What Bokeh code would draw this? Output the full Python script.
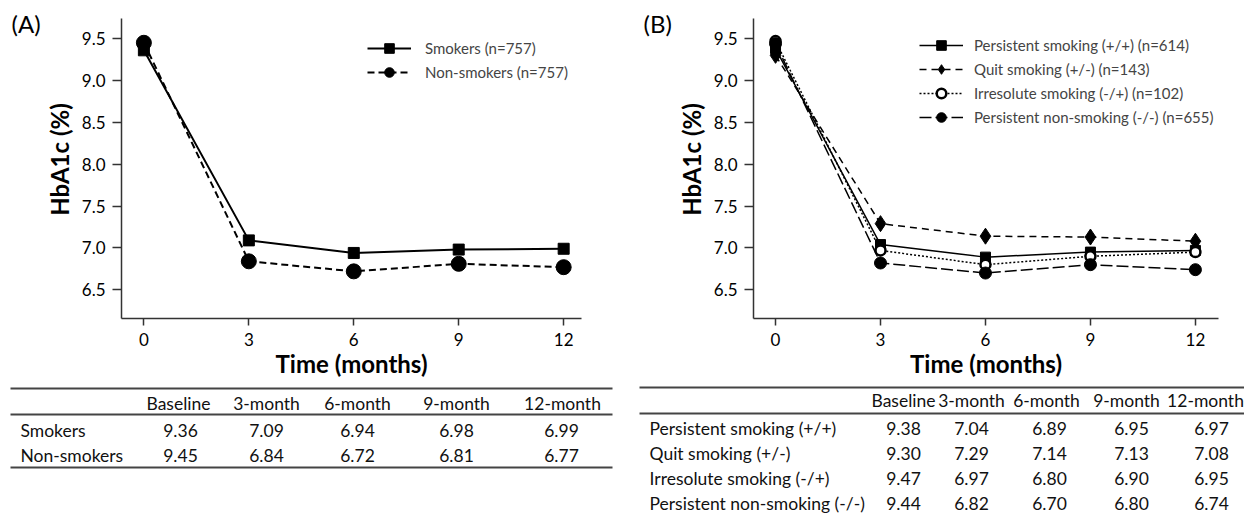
from bokeh.plotting import figure
from bokeh.models import (Range1d, FixedTicker, Legend, LegendItem,
                          NumeralTickFormatter)
from bokeh.layouts import row, column
from bokeh.embed import file_html
from bokeh.resources import INLINE
from bokeh.core.properties import value

# ---------------- data ----------------
months = [0, 3, 6, 9, 12]
col_labels = ["Baseline", "3-month", "6-month", "9-month", "12-month"]
y_ticks = [6.5, 7.0, 7.5, 8.0, 8.5, 9.0, 9.5]

a_names = ["Smokers", "Non-smokers"]
a_n = [757, 757]
smokers = [9.36, 7.09, 6.94, 6.98, 6.99]
non_smokers = [9.45, 6.84, 6.72, 6.81, 6.77]

b_names = ["Persistent smoking (+/+)", "Quit smoking (+/-)",
           "Irresolute smoking (-/+)", "Persistent non-smoking (-/-)"]
b_n = [614, 143, 102, 655]
persistent_smoking = [9.38, 7.04, 6.89, 6.95, 6.97]
quit_smoking = [9.30, 7.29, 7.14, 7.13, 7.08]
irresolute_smoking = [9.47, 6.97, 6.80, 6.90, 6.95]
persistent_non_smoking = [9.44, 6.82, 6.70, 6.80, 6.74]

FONT = "Lato"
AX = "#333333"
CHART_H = 382
B_BOTTOM = 64
Y_LO, Y_HI, Y_TOP = 6.157, 9.74, 9.955   # axis bounds and frame top


def make_tag(width, text, tx):
    t = figure(width=width, height=CHART_H, output_backend="svg", toolbar_location=None,
               x_range=Range1d(0, width), y_range=Range1d(CHART_H - B_BOTTOM, 0),
               x_axis_location=None, y_axis_location=None,
               min_border_left=0, min_border_right=0, min_border_top=0,
               min_border_bottom=B_BOTTOM)
    t.xgrid.visible = False
    t.ygrid.visible = False
    t.outline_line_color = None
    t.text(x=[tx], y=[23], text=[text], text_font=value(FONT), text_font_size="24px",
           text_baseline="middle", text_align="left", text_color="black")
    return t


def make_chart(width, b_left, b_right, x_start, x_end):
    p = figure(width=width, height=CHART_H, output_backend="svg", toolbar_location=None,
               x_range=Range1d(x_start, x_end), y_range=Range1d(Y_LO, Y_TOP),
               min_border_left=b_left, min_border_right=b_right,
               min_border_top=0, min_border_bottom=B_BOTTOM)
    p.xgrid.visible = False
    p.ygrid.visible = False
    p.outline_line_color = None
    p.xaxis.ticker = FixedTicker(ticks=months)
    p.yaxis.ticker = FixedTicker(ticks=y_ticks)
    p.yaxis.formatter = NumeralTickFormatter(format="0.0")
    p.yaxis.bounds = (Y_LO, Y_HI)
    p.xaxis.axis_label = "Time (months)"
    p.yaxis.axis_label = "HbA1c (%)"
    for ax in p.axis:
        ax.major_tick_in = 0
        ax.minor_tick_line_color = None
        ax.axis_line_color = AX
        ax.axis_line_width = 1.5
        ax.major_tick_line_color = AX
        ax.major_tick_line_width = 1.5
        ax.major_label_text_font = FONT
        ax.major_label_text_font_size = "17px"
        ax.major_label_text_color = "black"
        ax.major_label_standoff = 7
        ax.axis_label_text_font = FONT
        ax.axis_label_text_font_style = "bold"
        ax.axis_label_text_font_size = "24px"
        ax.axis_label_text_color = "black"
    p.yaxis.major_tick_out = 9
    p.xaxis.major_tick_out = 7
    p.yaxis.axis_label_standoff = 5
    p.xaxis.axis_label_standoff = 0
    return p


def style_legend(leg, standoff):
    leg.glyph_width = 44
    leg.glyph_height = 24
    leg.label_height = 24
    leg.spacing = 0
    leg.padding = 0
    leg.margin = 0
    leg.border_line_color = None
    leg.background_fill_alpha = 0
    leg.label_text_font = FONT
    leg.label_text_font_size = "15px"
    leg.label_standoff = standoff


# ---------------- panel A ----------------
tag_a = make_tag(41, "(A)", 11)
pa = make_chart(587, 79, 47, -0.64, 12.51)
la1 = pa.line(months, smokers, line_width=2, color="black")
ma1 = pa.scatter(months, smokers, marker="square", size=11, color="black")
la2 = pa.line(months, non_smokers, line_width=2, color="black", line_dash="7 4")
ma2 = pa.scatter(months, non_smokers, marker="circle", size=15, color="black")
leg_a = Legend(items=[
    LegendItem(label=f"{a_names[0]} (n={a_n[0]})", renderers=[la1, ma1]),
    LegendItem(label=f"{a_names[1]} (n={a_n[1]})", renderers=[la2, ma2]),
], location=(246, 234))
style_legend(leg_a, 14)
pa.add_layout(leg_a)

# ---------------- panel B ----------------
tag_b = make_tag(45, "(B)", 15)
pb = make_chart(571, 79, 26, -0.63, 12.66)
lb1 = pb.line(months, persistent_smoking, line_width=1.5, color="black")
mb1 = pb.scatter(months, persistent_smoking, marker="square", size=10, color="black")
lb2 = pb.line(months, quit_smoking, line_width=1.5, color="black", line_dash="7 5")
mb2 = pb.scatter(months, quit_smoking, marker="diamond", size=16, color="black")
lb3 = pb.line(months, irresolute_smoking, line_width=1.5, color="black", line_dash="2 2")
mb3 = pb.scatter(months, irresolute_smoking, marker="circle", size=10,
                 fill_color="white", line_color="black", line_width=2.5)
lb4 = pb.line(months, persistent_non_smoking, line_width=1.5, color="black",
              line_dash="12 4")
mb4 = pb.scatter(months, persistent_non_smoking, marker="circle", size=12, color="black")
leg_b = Legend(items=[
    LegendItem(label=f"{b_names[i]} (n={b_n[i]})", renderers=r)
    for i, r in enumerate([[lb1, mb1], [lb2, mb2], [lb3, mb3], [lb4, mb4]])
], location=(166, 189))
style_legend(leg_b, 11)
pb.add_layout(leg_b)

# ---------------- tables (one figure, page-pixel coordinates) ----------------
T_TOP, T_H, T_W = CHART_H, 131, 1244
tbl = figure(width=T_W, height=T_H, output_backend="svg", toolbar_location=None,
             x_range=Range1d(0, T_W), y_range=Range1d(T_TOP + T_H, T_TOP),
             x_axis_location=None, y_axis_location=None, min_border=0)
tbl.xgrid.visible = False
tbl.ygrid.visible = False
tbl.outline_line_color = None
common = dict(text_font=value(FONT), text_font_size="17.5px", text_color="#111111",
              text_baseline="middle")


def draw_table(label_x, head_x, val_x, line_x0, line_x1, head_y, row_ys, line_ys,
               names, rows):
    tbl.text(x=head_x, y=[head_y] * len(col_labels), text=col_labels,
             text_align="center", **common)
    lx, ly, lt, vx, vy, vt = [], [], [], [], [], []
    for name, vals, yy in zip(names, rows, row_ys):
        lx.append(label_x); ly.append(yy); lt.append(name)
        for xx, v in zip(val_x, vals):
            vx.append(xx); vy.append(yy); vt.append(f"{v:.2f}")
    tbl.text(x=lx, y=ly, text=lt, text_align="left", **common)
    tbl.text(x=vx, y=vy, text=vt, text_align="center", **common)
    tbl.segment(x0=[line_x0] * len(line_ys), x1=[line_x1] * len(line_ys),
                y0=line_ys, y1=line_ys, line_color="#444444", line_width=2)


draw_table(20, [178, 266, 357, 456, 562], [180, 266, 357, 456, 561], 10, 612,
           403, [430, 455], [388, 414, 467], a_names, [smokers, non_smokers])
draw_table(649, [903, 971, 1046, 1126, 1205], [903, 971, 1049, 1131, 1211], 639, 1244,
           400, [428, 453, 478, 503], [387, 413], b_names,
           [persistent_smoking, quit_smoking, irresolute_smoking, persistent_non_smoking])

layout = column(row(tag_a, pa, tag_b, pb), tbl)
open("out.html", "w").write(file_html(layout, INLINE))
